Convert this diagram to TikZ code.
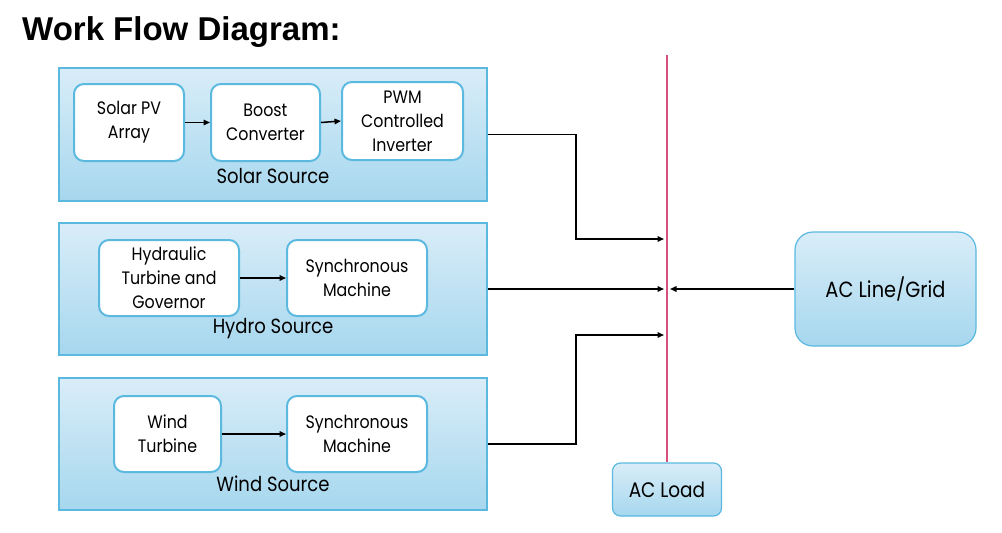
\documentclass[tikz,border=0pt]{standalone}
\usepackage{fontspec}
\setmainfont[FakeStretch=0.88]{Poppins}
\newfontfamily\titlefont{Liberation Sans}
\usetikzlibrary{arrows.meta}
\definecolor{bdr}{HTML}{5BB9E0}
\definecolor{topc}{HTML}{D9EDF8}
\definecolor{botc}{HTML}{A6D7EE}
\definecolor{busc}{HTML}{D64F7E}
\tikzset{
  srcbox/.style={draw=bdr,line width=1.2pt,top color=topc,bottom color=botc,inner sep=0pt},
  blk/.style={draw=bdr,line width=2pt,fill=white,rounded corners=10pt,align=center,inner sep=0pt,
    font=\fontsize{18}{24}\selectfont},
  endbox/.style={draw=bdr,line width=1.2pt,top color=topc,bottom color=botc,align=center,inner sep=0pt},
  lbl/.style={font=\fontsize{20.5}{24}\selectfont,inner sep=0pt},
  conn/.style={draw=black,line width=1.5pt,-{Triangle[length=6.5pt,width=5.5pt]}},
}
\begin{document}
\begin{tikzpicture}[x=1pt,y=-1pt]
\useasboundingbox (0,0) rectangle (1002,533);
\node[anchor=base west,font=\titlefont\bfseries\fontsize{33}{36}\selectfont,inner sep=0pt] (title) at (22,40) {Work Flow Diagram:};
% source boxes
\node[srcbox,minimum width=428pt,minimum height=133pt] (solarbox) at (273,134.5) {};
\node[srcbox,minimum width=428pt,minimum height=132pt] (hydrobox) at (273,289) {};
\node[srcbox,minimum width=428pt,minimum height=132pt] (windbox) at (273,444) {};
% solar
\node[blk,minimum width=110pt,minimum height=77pt] (pv) at (129,122.5) {Solar PV\\Array};
\node[blk,minimum width=109pt,minimum height=77pt] (boost) at (265.5,122.5) {Boost\\Converter};
\node[blk,minimum width=121pt,minimum height=78pt] (pwm) at (402.5,121) {PWM\\Controlled\\Inverter};
\node[lbl] (solarlbl) at (273,176) {Solar Source};
% hydro
\node[blk,minimum width=140pt,minimum height=76pt] (hyd) at (169,278) {Hydraulic\\Turbine and\\Governor};
\node[blk,minimum width=140pt,minimum height=76pt] (synch) at (357,278) {Synchronous\\Machine};
\node[lbl] (hydrolbl) at (273,329) {Hydro Source};
% wind
\node[blk,minimum width=107pt,minimum height=76pt] (wt) at (167.5,434) {Wind\\Turbine};
\node[blk,minimum width=140pt,minimum height=76pt] (syncw) at (357,434) {Synchronous\\Machine};
\node[lbl] (windlbl) at (273,484) {Wind Source};
% right side
\node[endbox,rounded corners=18pt,minimum width=181pt,minimum height=114pt,font=\fontsize{22}{24}\selectfont] (grid) at (885.5,289) {AC Line/Grid};
\node[endbox,rounded corners=8pt,minimum width=109pt,minimum height=53pt,font=\fontsize{21}{24}\selectfont] (load) at (667,489.5) {AC Load};
\coordinate (bustop) at (667,55);
\draw[busc,line width=2pt] (bustop) -- (load.north);
\coordinate (b1) at (664,239);
\coordinate (b2) at (664,289);
\coordinate (b2r) at (670,289);
\coordinate (b3) at (664,335);
% inner arrows
\draw[conn] (pv.east) -- (boost.west);
\draw[conn] (boost.east) -- (pwm.west);
\draw[conn] (hyd.east) -- (synch.west);
\draw[conn] (wt.east) -- (syncw.west);
% outputs
\draw[conn] (solarbox.east) -| (576,239) -- (b1);
\draw[conn] (hydrobox.east) -- (b2);
\draw[conn] (windbox.east) -| (576,335) -- (b3);
\draw[conn] (grid.west) -- (b2r);
\end{tikzpicture}
\end{document}
